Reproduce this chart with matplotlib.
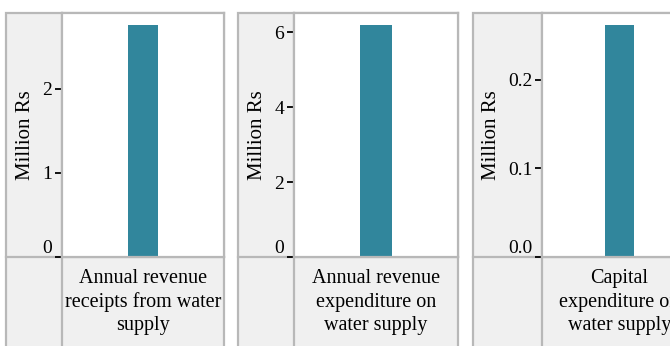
import matplotlib.pyplot as plt
from matplotlib.patches import Rectangle
from matplotlib.lines import Line2D

categories = ['Annual revenue\nreceipts from water\nsupply',
              'Annual revenue\nexpenditure on\nwater supply',
              'Capital\nexpenditure on\nwater supply']
values = [2.76, 6.2, 0.262]
ticks = [[0, 1, 2], [0, 2, 4, 6], [0.0, 0.1, 0.2]]
tick_labels = [['0', '1', '2'], ['0', '2', '4', '6'], ['0.0', '0.1', '0.2']]
ylabel = 'Million Rs'

W, H = 670, 346
BAR = '#31869c'
GREY = '#f0f0f0'
EDGE = '#b8b8b8'

# panel geometry in pixels: (left, plot left, right)
panels = [(6, 62, 224), (238, 294, 458), (473, 542, 697)]
top, base = 13, 257

plt.rcParams['font.family'] = ['Liberation Serif', 'DejaVu Serif']

fig = plt.figure(figsize=(W / 100, H / 100), dpi=100, facecolor='white')


def fx(x):
    return x / W


def fy(y):
    return 1 - y / H


for i, (x0, xp, x1) in enumerate(panels):
    # grey frame for the panel
    fig.patches.append(Rectangle((fx(x0), fy(H + 5)), fx(x1 - x0), fy(top) - fy(H + 5),
                                 transform=fig.transFigure, facecolor=GREY,
                                 edgecolor=EDGE, lw=1.6, zorder=-2))
    ax = fig.add_axes([fx(xp), fy(base), fx(x1 - xp), fy(top) - fy(base)], zorder=1)
    ax.set_facecolor('white')
    ax.bar([0], [values[i]], width=0.19, color=BAR)
    ax.set_xlim(-0.5, 0.5)
    ax.set_ylim(0, values[i] * 1.05)
    ax.set_xticks([])
    ax.set_yticks(ticks[i])
    ax.set_yticklabels(tick_labels[i], fontsize=14)
    ax.get_yticklabels()[0].set_verticalalignment('bottom')
    ax.tick_params(axis='y', length=5, width=1.3, color='black', pad=2)
    ax.yaxis.get_major_ticks()[0].tick1line.set_color('#888888')
    for s in ax.spines.values():
        s.set_color(EDGE)
        s.set_linewidth(1.6)
    ax.set_ylabel(ylabel, fontsize=15, labelpad=5)
    # divider lines of the table layout
    fig.lines.append(Line2D([fx(x0), fx(x1)], [fy(base), fy(base)],
                            transform=fig.transFigure, color=EDGE, lw=1.6, zorder=-1))
    fig.lines.append(Line2D([fx(xp), fx(xp)], [fy(H + 5), fy(top)],
                            transform=fig.transFigure, color=EDGE, lw=1.6, zorder=-1))
    fig.text(fx((xp + x1) / 2), fy(302), categories[i], ha='center', va='center',
             fontsize=14.5, linespacing=1.3)

fig.savefig('out.png', dpi=100)
